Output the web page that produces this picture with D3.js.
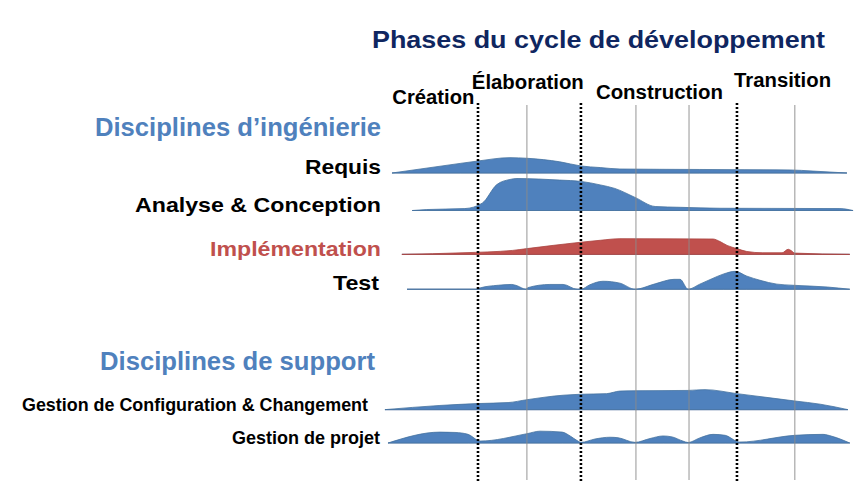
<!DOCTYPE html>
<html><head><meta charset="utf-8">
<script src="https://cdn.jsdelivr.net/npm/d3@7"></script>
<style>html,body{margin:0;padding:0;background:#fff;}svg{display:block;}</style>
</head><body>
<svg id="chart" width="864" height="503"></svg>
<script>
// ---------- data ----------
const title = "Phases du cycle de développement";
const phases = ["Création", "Élaboration", "Construction", "Transition"];
const phaseBounds = [20.0, 41.9, 75.1];          // time (%) of phase ends
const iterationBounds = [30.4, 53.6, 64.9, 87.4]; // time (%) of iteration ends
const groups = ["Disciplines d’ingénierie", "Disciplines de support"];
const disciplines = ["Requis", "Analyse & Conception", "Implémentation", "Test",
  "Gestion de Configuration & Changement", "Gestion de projet"];

// effort curves: [time %, effort 0-100]
const requis = [[1.7,0],[16.2,30],[20.0,37.5],[26.8,48],[30.4,46],[37.4,35],[41.9,22],[46.0,17],[50.2,12.5],[67.2,11],[86.4,9.5],[91.3,6],[98.5,0]];
const analyse = [[6.0,0],[9.1,3],[17.2,6],[20.9,23],[24.0,81],[26.8,97],[28.3,100],[37.4,95],[41.9,91],[46.0,80],[49.1,69],[53.4,41],[57.7,12.5],[63.0,10],[71.5,7],[97.0,6],[99.8,0]];
const implementation = [[3.8,0],[16.8,5],[27.4,12.5],[30.4,18],[41.9,38],[46.0,44],[50.2,49],[70.0,48],[71.5,40],[73.0,28],[75.1,18],[77.2,9],[80.6,5],[84.7,5],[86.0,16],[86.6,12],[87.4,4],[99.1,0]];
const test = [[4.9,0],[20.0,0],[20.4,4],[24.3,12.5],[27.2,15],[28.3,11],[30.2,0],[30.6,5],[35.3,15],[38.1,15],[41.1,0],[41.9,0],[43.8,14],[46.6,25],[50.2,19],[53.4,0],[57.7,17],[61.7,31],[63.0,31],[64.7,0],[67.2,16],[69.8,33],[72.3,48],[74.7,56],[77.2,41],[80.0,28],[83.6,16],[87.0,12.5],[94.3,7],[99.1,0]];
const configuration = [[0.2,0],[11.9,13],[20.0,19],[26.4,22],[30.4,31],[38.1,45],[41.9,48],[47.4,50],[50.2,58],[53.6,59],[64.7,60],[68.3,62.5],[75.1,50],[87.4,27],[92.8,17],[98.7,0]];
const projet = [[0.85,0],[11.9,34],[15.1,33],[17.9,27],[20.0,8],[20.4,6],[30.4,29],[33.2,37],[37.9,34],[39.6,22],[41.1,7.5],[41.9,2],[44.9,12.5],[48.1,18],[49.8,16.5],[53.4,2],[56.6,14],[59.4,22],[61.3,19],[63.6,6],[64.7,1.5],[67.2,16],[70.0,27],[72.6,24],[75.1,5],[75.7,3],[87.4,24],[93.4,27],[95.3,21],[99.1,0]];
const series = [requis, analyse, implementation, test, configuration, projet];

// ---------- layout ----------
const rowSlots = [0, 1, 2.17, 3.1, 6.31, 7.2];
const groupSlots = [-1.0, 5.26];
const rowColors = ["#4f81bd", "#4f81bd", "#c0504d", "#4f81bd", "#4f81bd", "#4f81bd"];
const rowStroke = ["#45729f", "#45729f", "#a9423f", "#45729f", "#45729f", "#45729f"];
const labelColors = ["#000", "#000", "#c0504d", "#000", "#000", "#000"];
const labelWidths = [76, 246, 171, 46, 346, 148];
const labelEnds = [381, 381, 381, 379, 368, 380];
const labelSizes = [21, 21, 21, 21, 18, 18];
const groupWidths = [286, 275];
const groupEnds = [381, 375];
const phaseLabelPos = [{t:10.5, y:104, w:82}, {t:30.6, y:89, w:112}, {t:58.6, y:99, w:127}, {t:84.8, y:87, w:97}];

const svg = d3.select("#chart");
const x = d3.scaleLinear().domain([0, 100]).range([384, 854]);
const h = d3.scaleLinear().domain([0, 100]).range([0, 32]);
const row = d3.scaleLinear().domain([0, 1]).range([173, 210.5]);
const font = "'Liberation Sans', Arial, Helvetica, sans-serif";

// title
svg.append("text").attr("x", 598.5).attr("y", 48)
  .attr("text-anchor", "middle").attr("font-family", font).attr("font-weight", "bold")
  .attr("font-size", 24).attr("fill", "#0f2660")
  .attr("textLength", 453).attr("lengthAdjust", "spacingAndGlyphs").text(title);

// phase labels
svg.selectAll("text.phase").data(phases).join("text").attr("class", "phase")
  .attr("x", (d, i) => x(phaseLabelPos[i].t)).attr("y", (d, i) => phaseLabelPos[i].y)
  .attr("text-anchor", "middle").attr("font-family", font).attr("font-weight", "bold")
  .attr("font-size", 20).attr("fill", "#000")
  .attr("textLength", (d, i) => phaseLabelPos[i].w).attr("lengthAdjust", "spacingAndGlyphs")
  .text(d => d);

// group headers
svg.selectAll("text.group").data(groups).join("text").attr("class", "group")
  .attr("x", (d, i) => groupEnds[i]).attr("y", (d, i) => row(groupSlots[i]))
  .attr("text-anchor", "end").attr("font-family", font).attr("font-weight", "bold")
  .attr("font-size", 25).attr("fill", "#4f81bd")
  .attr("textLength", (d, i) => groupWidths[i]).attr("lengthAdjust", "spacingAndGlyphs")
  .text(d => d);

// discipline labels
svg.selectAll("text.disc").data(disciplines).join("text").attr("class", "disc")
  .attr("x", (d, i) => labelEnds[i]).attr("y", (d, i) => row(rowSlots[i]) + 1.2)
  .attr("text-anchor", "end").attr("font-family", font).attr("font-weight", "bold")
  .attr("font-size", (d, i) => labelSizes[i]).attr("fill", (d, i) => labelColors[i])
  .attr("textLength", (d, i) => labelWidths[i]).attr("lengthAdjust", "spacingAndGlyphs")
  .text(d => d);

// humps
series.forEach((s, i) => {
  const base = row(rowSlots[i]);
  const area = d3.area().curve(d3.curveMonotoneX)
    .x(d => x(d[0])).y0(base).y1(d => base - h(d[1]));
  svg.append("line").attr("x1", x(s[0][0])).attr("x2", x(s[s.length - 1][0]))
    .attr("y1", base).attr("y2", base).attr("stroke", "#8299bb").attr("stroke-width", 1.2);
  svg.append("path").datum(s).attr("d", area)
    .attr("fill", rowColors[i]).attr("stroke", rowStroke[i]).attr("stroke-width", 0.8);
});

// iteration lines
svg.selectAll("line.iter").data(iterationBounds).join("line").attr("class", "iter")
  .attr("x1", d => x(d)).attr("x2", d => x(d)).attr("y1", 105).attr("y2", 480)
  .attr("stroke", "#8a8a8a").attr("stroke-opacity", 0.65).attr("stroke-width", 1.4);

// phase boundaries
svg.selectAll("line.phaseb").data(phaseBounds).join("line").attr("class", "phaseb")
  .attr("x1", d => x(d)).attr("x2", d => x(d)).attr("y1", 103).attr("y2", 482)
  .attr("stroke", "#000").attr("stroke-width", 2.6).attr("stroke-dasharray", "2,2");
</script>
</body></html>
